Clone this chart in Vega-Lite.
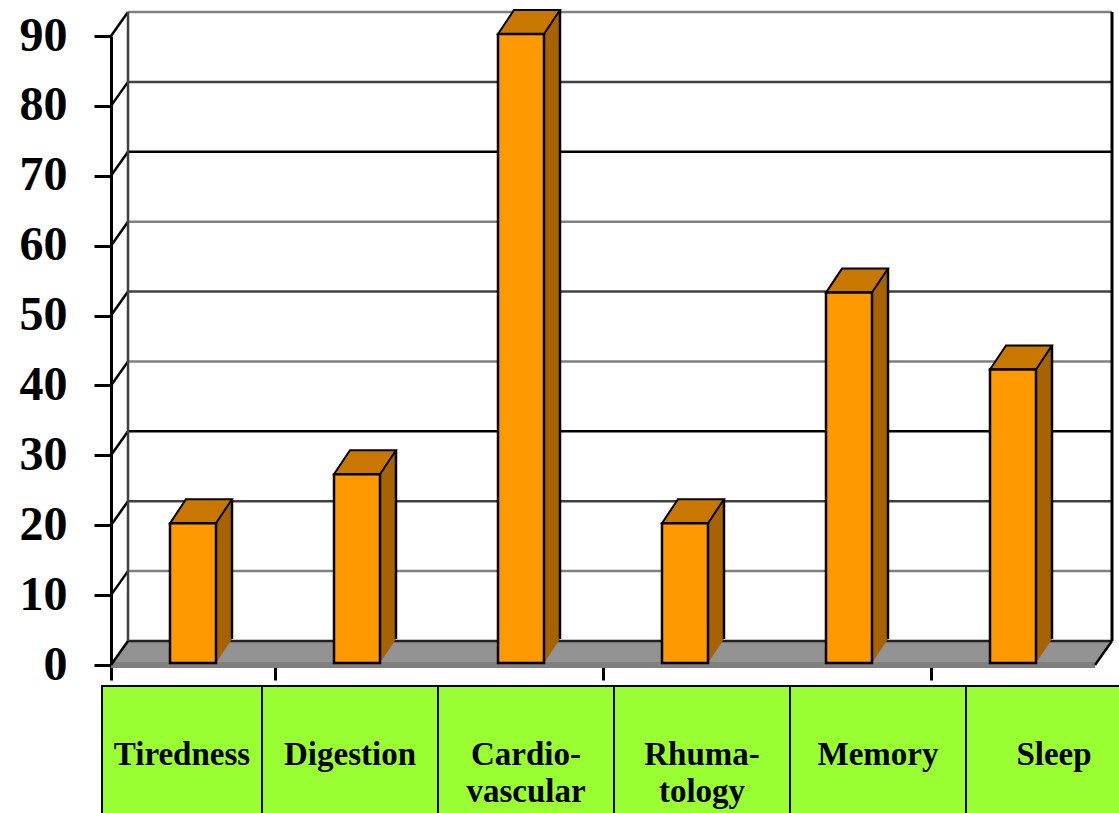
{
  "$schema": "https://vega.github.io/schema/vega-lite/v6.json",
  "width": 984,
  "height": 629,
  "autosize": "none",
  "padding": {"left": 111, "top": 36, "right": 24, "bottom": 148},
  "background": "white",
  "config": {"view": {"stroke": null}, "font": "Liberation Serif"},
  "datasets": {
    "bars": [
      {"cat": "Tiredness", "value": 20},
      {"cat": "Digestion", "value": 27},
      {"cat": "Cardio-vascular", "value": 90},
      {"cat": "Rhumatology", "value": 20},
      {"cat": "Memory", "value": 53},
      {"cat": "Sleep", "value": 42}
    ],
    "grid": [{"v": 0}, {"v": 10}, {"v": 20}, {"v": 30}, {"v": 40}, {"v": 50}, {"v": 60}, {"v": 70}, {"v": 80}, {"v": 90}],
    "cells": [
      {"cat": "Tiredness", "label": ["Tiredness"]},
      {"cat": "Digestion", "label": ["Digestion"]},
      {"cat": "Cardio-vascular", "label": ["Cardio-", "vascular"]},
      {"cat": "Rhumatology", "label": ["Rhuma-", "tology"]},
      {"cat": "Memory", "label": ["Memory"]},
      {"cat": "Sleep", "label": ["Sleep"]}
    ],
    "one": [{"k": 1}]
  },
  "layer": [
    {
      "layer": [
        {
          "data": {"name": "one"},
          "mark": {"type": "point", "shape": "M0,-2L984,-2L1001,-24L17,-24Z", "size": 4, "filled": true, "fill": "#939393", "strokeWidth": 0, "opacity": 1},
          "encoding": {
            "x": {"datum": "Tiredness", "type": "nominal", "bandPosition": 0, "scale": {"type": "band", "domain": ["Tiredness", "Digestion", "Cardio-vascular", "Rhumatology", "Memory", "Sleep"], "paddingInner": 0, "paddingOuter": 0}, "axis": {"title": null, "values": ["Tiredness", "Digestion", "Rhumatology", "Sleep"], "bandPosition": 0, "labels": false, "domain": false, "ticks": true, "tickSize": 15, "tickWidth": 3, "tickColor": "black", "grid": false}},
            "y": {"datum": 0, "type": "quantitative", "scale": {"domain": [0, 90], "nice": false, "zero": true}, "axis": {"title": null, "values": [0, 10, 20, 30, 40, 50, 60, 70, 80, 90], "domain": true, "domainColor": "black", "domainWidth": 3, "ticks": true, "tickSize": 17, "tickWidth": 3, "tickColor": "black", "labelFont": "Liberation Serif", "labelFontWeight": "bold", "labelFontSize": 48, "labelColor": "black", "labelPadding": 27, "grid": false}}
          }
        },
        {
          "data": {"name": "one"},
          "mark": {"type": "point", "shape": "M0,-3L984,-3L984,3L0,3Z", "size": 4, "filled": true, "fill": "#7f7f7f", "strokeWidth": 0, "opacity": 1},
          "encoding": {
            "x": {"datum": "Tiredness", "type": "nominal", "bandPosition": 0},
            "y": {"datum": 0, "type": "quantitative"}
          }
        },
        {
          "data": {"name": "grid"},
          "mark": {"type": "rule", "xOffset": 17, "x2Offset": 17, "yOffset": -24, "strokeWidth": 2.5},
          "encoding": {
            "x": {"datum": "Tiredness", "type": "nominal", "bandPosition": 0},
            "x2": {"datum": "Sleep", "bandPosition": 1},
            "y": {"field": "v", "type": "quantitative"},
            "color": {"condition": [
              {"test": "datum.v === 0", "value": "#222222"},
              {"test": "datum.v === 30 || datum.v === 70", "value": "#000000"},
              {"test": "datum.v === 20 || datum.v === 50 || datum.v === 80", "value": "#404040"}
            ], "value": "#808080"}
          }
        },
        {
          "data": {"name": "grid"},
          "mark": {"type": "rule", "x2Offset": 17, "y2Offset": -24, "strokeWidth": 2.5, "color": "black"},
          "encoding": {
            "x": {"datum": "Tiredness", "type": "nominal", "bandPosition": 0},
            "x2": {"datum": "Tiredness", "bandPosition": 0},
            "y": {"field": "v", "type": "quantitative"},
            "y2": {"field": "v"}
          }
        },
        {
          "data": {"name": "one"},
          "mark": {"type": "rule", "x2Offset": 17, "y2Offset": -24, "strokeWidth": 2.5, "color": "black"},
          "encoding": {
            "x": {"datum": "Sleep", "type": "nominal", "bandPosition": 1},
            "x2": {"datum": "Sleep", "bandPosition": 1},
            "y": {"datum": 0, "type": "quantitative"},
            "y2": {"datum": 0}
          }
        },
        {
          "data": {"name": "one"},
          "mark": {"type": "rule", "xOffset": 17, "yOffset": -24, "y2Offset": -24, "strokeWidth": 2.5, "color": "#404040"},
          "encoding": {
            "x": {"datum": "Tiredness", "type": "nominal", "bandPosition": 0},
            "y": {"datum": 0, "type": "quantitative"},
            "y2": {"datum": 90}
          }
        },
        {
          "data": {"name": "one"},
          "mark": {"type": "rule", "xOffset": 17, "yOffset": -24, "y2Offset": -24, "strokeWidth": 3, "color": "black"},
          "encoding": {
            "x": {"datum": "Sleep", "type": "nominal", "bandPosition": 1},
            "y": {"datum": 0, "type": "quantitative"},
            "y2": {"datum": 90}
          }
        },
        {
          "data": {"name": "bars"},
          "mark": {"type": "bar", "width": 16, "xOffset": 31, "yOffset": -26, "y2Offset": -26, "fill": "#A66300", "strokeWidth": 0},
          "encoding": {
            "x": {"field": "cat", "type": "nominal"},
            "y": {"field": "value", "type": "quantitative"},
            "y2": {"datum": 0}
          }
        },
        {
          "data": {"name": "bars"},
          "mark": {"type": "point", "shape": "M23,-26L39,-26L23,-2Z", "size": 4, "filled": true, "fill": "#A66300", "strokeWidth": 0, "opacity": 1},
          "encoding": {
            "x": {"field": "cat", "type": "nominal"},
            "y": {"datum": 0, "type": "quantitative"}
          }
        },
        {
          "data": {"name": "bars"},
          "mark": {"type": "rule", "xOffset": 39, "yOffset": -26, "y2Offset": -26, "strokeWidth": 2.5, "color": "black"},
          "encoding": {
            "x": {"field": "cat", "type": "nominal"},
            "y": {"field": "value", "type": "quantitative"},
            "y2": {"datum": 0}
          }
        },
        {
          "data": {"name": "bars"},
          "mark": {"type": "point", "shape": "M-23,-2L23,-2L39,-26L-7,-26Z", "size": 4, "filled": true, "fill": "#C87800", "stroke": "black", "strokeWidth": 2, "opacity": 1},
          "encoding": {
            "x": {"field": "cat", "type": "nominal"},
            "y": {"field": "value", "type": "quantitative"}
          }
        },
        {
          "data": {"name": "bars"},
          "mark": {"type": "bar", "width": 46, "yOffset": -2, "y2Offset": -2, "fill": "#FF9900", "stroke": "black", "strokeWidth": 2.5},
          "encoding": {
            "x": {"field": "cat", "type": "nominal"},
            "y": {"field": "value", "type": "quantitative"},
            "y2": {"datum": 0}
          }
        }
      ]
    },
    {
      "data": {"name": "cells"},
      "layer": [
        {
          "transform": [{"filter": "datum.cat !== 'Tiredness'"}],
          "mark": {"type": "bar", "width": {"band": 1}, "yOffset": 21, "y2Offset": 160, "fill": "#99FF33", "stroke": "black", "strokeWidth": 2},
          "encoding": {
            "x": {"field": "cat", "type": "nominal", "scale": {"type": "band", "domain": ["Tiredness", "Digestion", "Cardio-vascular", "Rhumatology", "Memory", "Sleep"], "range": [-25, 1031], "paddingInner": 0, "paddingOuter": 0}, "axis": null},
            "y": {"datum": 0, "type": "quantitative"},
            "y2": {"datum": 0}
          }
        },
        {
          "transform": [{"filter": "datum.cat === 'Tiredness'"}],
          "mark": {"type": "bar", "width": 160, "xOffset": 8, "yOffset": 21, "y2Offset": 160, "fill": "#99FF33", "stroke": "black", "strokeWidth": 2},
          "encoding": {
            "x": {"field": "cat", "type": "nominal", "axis": null},
            "y": {"datum": 0, "type": "quantitative"},
            "y2": {"datum": 0}
          }
        },
        {
          "transform": [{"filter": "datum.cat !== 'Tiredness'"}],
          "mark": {"type": "text", "font": "Liberation Serif", "fontWeight": "bold", "fontSize": 33, "baseline": "middle", "align": "center", "lineHeight": 37, "yOffset": 90, "color": "black"},
          "encoding": {
            "x": {"field": "cat", "type": "nominal", "axis": null},
            "y": {"datum": 0, "type": "quantitative"},
            "text": {"field": "label"}
          }
        },
        {
          "transform": [{"filter": "datum.cat === 'Tiredness'"}],
          "mark": {"type": "text", "font": "Liberation Serif", "fontWeight": "bold", "fontSize": 33, "baseline": "middle", "align": "center", "lineHeight": 37, "xOffset": 8, "yOffset": 90, "color": "black"},
          "encoding": {
            "x": {"field": "cat", "type": "nominal", "axis": null},
            "y": {"datum": 0, "type": "quantitative"},
            "text": {"field": "label"}
          }
        }
      ]
    }
  ],
  "resolve": {"scale": {"x": "independent"}, "axis": {"x": "independent"}}
}
